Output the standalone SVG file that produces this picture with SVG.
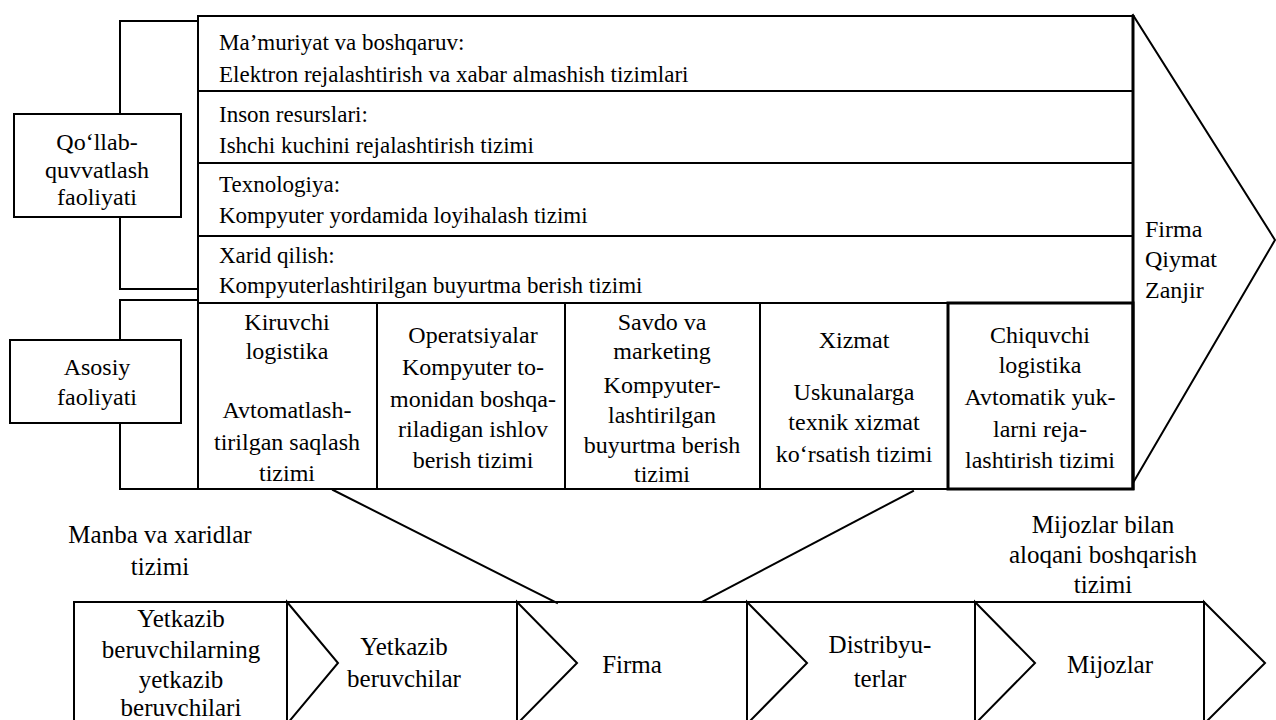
<svg xmlns="http://www.w3.org/2000/svg" width="1276" height="720" viewBox="0 0 1276 720" font-family="Liberation Serif, Times New Roman, serif">
  <style>
    .ln { fill: none; stroke: #000; stroke-width: 2; stroke-linecap: square; }
    .bold { fill: none; stroke: #000; stroke-width: 3; }
    .box { fill: #fff; stroke: #000; stroke-width: 2; }
    .t23 { font-size: 23px; }
    .t24 { font-size: 24px; }
    .t25 { font-size: 25px; }
    .mid { text-anchor: middle; }
  </style>
  <rect width="1276" height="720" fill="#fff"/>

  <!-- value chain outline: arrow head to the right -->
  <g id="firm-value-chain">
    <polyline class="ln" points="1133,15 1275,240 1133,483"/>
    <text class="t24" x="1145" y="237">Firma</text>
    <text class="t24" x="1145" y="267">Qiymat</text>
    <text class="t24" x="1145" y="298">Zanjir</text>
  </g>

  <!-- brackets joining the side labels to the activity blocks -->
  <g id="connectors">
    <polyline class="ln" points="198,21 120,21 120,114"/>
    <polyline class="ln" points="120,217 120,289 198,289"/>
    <polyline class="ln" points="198,300 120,300 120,340"/>
    <polyline class="ln" points="120,423 120,489 198,489"/>
    <line class="ln" x1="333" y1="490" x2="557" y2="603"/>
    <line class="ln" x1="913" y1="491" x2="702" y2="602"/>
  </g>

  <!-- support activities -->
  <g id="support-activities">
    <rect class="box" x="198" y="16" width="935" height="287"/>
    <line class="ln" x1="198" y1="91" x2="1133" y2="91"/>
    <line class="ln" x1="198" y1="163" x2="1133" y2="163"/>
    <line class="ln" x1="198" y1="236" x2="1133" y2="236"/>
  </g>
  <g id="row-administration">
    <text class="t23" x="219" y="50">Ma&#8217;muriyat va boshqaruv:</text>
    <text class="t23" x="219" y="82">Elektron rejalashtirish va xabar almashish tizimlari</text>
  </g>
  <g id="row-hr">
    <text class="t23" x="219" y="122">Inson resurslari:</text>
    <text class="t23" x="219" y="153">Ishchi kuchini rejalashtirish tizimi</text>
  </g>
  <g id="row-technology">
    <text class="t23" x="219" y="192">Texnologiya:</text>
    <text class="t23" x="219" y="223">Kompyuter yordamida loyihalash tizimi</text>
  </g>
  <g id="row-procurement">
    <text class="t23" x="219" y="263">Xarid qilish:</text>
    <text class="t23" x="219" y="293">Kompyuterlashtirilgan buyurtma berish tizimi</text>
  </g>

  <!-- primary activities -->
  <g id="primary-activities">
    <rect class="box" x="198" y="303" width="935" height="186"/>
    <line class="ln" x1="377" y1="303" x2="377" y2="489"/>
    <line class="ln" x1="565" y1="303" x2="565" y2="489"/>
    <line class="ln" x1="760" y1="303" x2="760" y2="489"/>
    <line class="bold" x1="1133" y1="15" x2="1133" y2="490"/>
  </g>
  <g id="inbound-logistics">
    <text class="t24 mid" x="287" y="330">Kiruvchi</text>
    <text class="t24 mid" x="287" y="359">logistika</text>
    <text class="t24 mid" x="287" y="418">Avtomatlash-</text>
    <text class="t24 mid" x="287" y="450">tirilgan saqlash</text>
    <text class="t24 mid" x="287" y="481">tizimi</text>
  </g>
  <g id="operations">
    <text class="t24 mid" x="473" y="343">Operatsiyalar</text>
    <text class="t24 mid" x="473" y="375">Kompyuter to-</text>
    <text class="t24 mid" x="473" y="407">monidan boshqa-</text>
    <text class="t24 mid" x="473" y="437">riladigan ishlov</text>
    <text class="t24 mid" x="473" y="468">berish tizimi</text>
  </g>
  <g id="sales-marketing">
    <text class="t24 mid" x="662" y="330">Savdo va</text>
    <text class="t24 mid" x="662" y="359">marketing</text>
    <text class="t24 mid" x="662" y="393">Kompyuter-</text>
    <text class="t24 mid" x="662" y="423">lashtirilgan</text>
    <text class="t24 mid" x="662" y="453">buyurtma berish</text>
    <text class="t24 mid" x="662" y="482">tizimi</text>
  </g>
  <g id="service">
    <text class="t24 mid" x="854" y="348">Xizmat</text>
    <text class="t24 mid" x="854" y="400">Uskunalarga</text>
    <text class="t24 mid" x="854" y="430">texnik xizmat</text>
    <text class="t24 mid" x="854" y="462">ko&#8216;rsatish tizimi</text>
  </g>
  <g id="outbound-logistics">
    <rect class="bold" x="948" y="303" width="185" height="186" fill="#fff"/>
    <text class="t24 mid" x="1040" y="343">Chiquvchi</text>
    <text class="t24 mid" x="1040" y="373">logistika</text>
    <text class="t24 mid" x="1040" y="405">Avtomatik yuk-</text>
    <text class="t24 mid" x="1040" y="437">larni reja-</text>
    <text class="t24 mid" x="1040" y="468">lashtirish tizimi</text>
  </g>

  <!-- side labels -->
  <g id="support-label">
    <rect class="box" x="14" y="114" width="167" height="103"/>
    <text class="t24 mid" x="97" y="150">Qo&#8216;llab-</text>
    <text class="t24 mid" x="97" y="178">quvvatlash</text>
    <text class="t24 mid" x="97" y="205">faoliyati</text>
  </g>
  <g id="primary-label">
    <rect class="box" x="10" y="340" width="171" height="83"/>
    <text class="t24 mid" x="97" y="375">Asosiy</text>
    <text class="t24 mid" x="97" y="405">faoliyati</text>
  </g>

  <!-- system captions above the supply chain -->
  <g id="sourcing-system">
    <text class="t25 mid" x="160" y="543">Manba va xaridlar</text>
    <text class="t25 mid" x="160" y="575">tizimi</text>
  </g>
  <g id="crm-system">
    <text class="t25 mid" x="1103" y="533">Mijozlar bilan</text>
    <text class="t25 mid" x="1103" y="563">aloqani boshqarish</text>
    <text class="t25 mid" x="1103" y="593">tizimi</text>
  </g>

  <!-- supply chain -->
  <g id="supply-chain">
    <polyline class="ln" points="74,724 74,602 1204,602"/>
    <polygon class="ln" points="287,602 338,663 287,724"/>
    <polygon class="ln" points="517,602 577,663 517,724"/>
    <polygon class="ln" points="747,602 807,663 747,724"/>
    <polygon class="ln" points="975,602 1035,663 975,724"/>
    <polygon class="ln" points="1204,602 1265,663 1204,724"/>
  </g>
  <g id="suppliers-of-suppliers">
    <text class="t25 mid" x="181" y="627">Yetkazib</text>
    <text class="t25 mid" x="181" y="658">beruvchilarning</text>
    <text class="t25 mid" x="181" y="688">yetkazib</text>
    <text class="t25 mid" x="181" y="716">beruvchilari</text>
  </g>
  <g id="suppliers">
    <text class="t25 mid" x="404" y="655">Yetkazib</text>
    <text class="t25 mid" x="404" y="687">beruvchilar</text>
  </g>
  <g id="firm">
    <text class="t25 mid" x="632" y="673">Firma</text>
  </g>
  <g id="distributors">
    <text class="t25 mid" x="880" y="653">Distribyu-</text>
    <text class="t25 mid" x="880" y="687">terlar</text>
  </g>
  <g id="customers">
    <text class="t25 mid" x="1110" y="673">Mijozlar</text>
  </g>
</svg>
